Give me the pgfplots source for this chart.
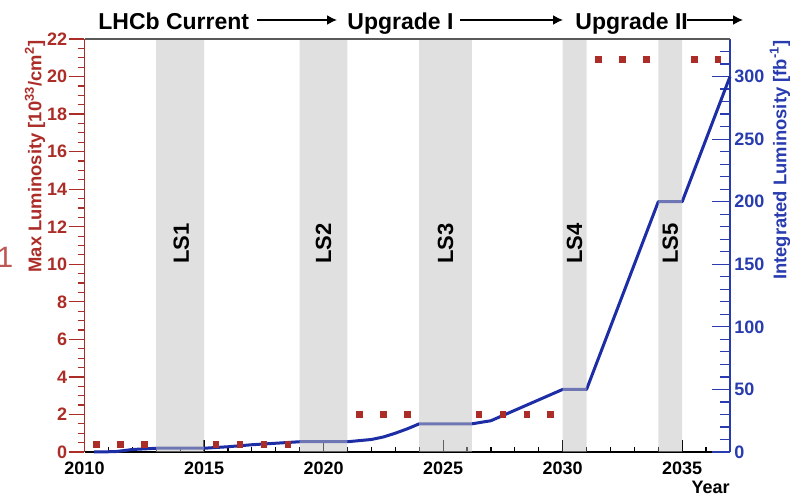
\documentclass[border=0pt]{standalone}
\usepackage{fontspec}
\setmainfont{Liberation Sans}
\usepackage{pgfplots}
\pgfplotsset{compat=1.18}
\usetikzlibrary{arrows.meta}
\definecolor{lred}{RGB}{172,45,40}
\definecolor{lblue}{RGB}{28,45,165}
\definecolor{axblue}{RGB}{40,60,175}
\definecolor{bandc}{RGB}{193,193,193}
\newcommand\tickfont{\bfseries\fontsize{9}{10}\selectfont}
\newcommand\labfont{\bfseries\fontsize{9.2}{10}\selectfont}
\newcommand\topfont{\bfseries\fontsize{11.5}{13}\selectfont}
\newcommand\lsfont{\bfseries\fontsize{11}{13}\selectfont}
\pgfplotsset{
  every axis/.append style={
    scale only axis, width=322.75pt, height=206.5pt,
    xmin=2010, xmax=2037,
    /pgf/number format/assume math mode=true,
    /pgf/number format/1000 sep={},
    clip=false,
  }
}
\begin{document}
\begin{tikzpicture}
% ---- bottom x axis ----
\begin{axis}[
  ymin=0, ymax=22,
  axis x line*=bottom, axis y line=none,
  xtick={2010,2015,2020,2025,2030,2035},
  minor xtick={2010,2011,...,2036},
  tick align=inside,
  major tick length=6pt, minor tick length=2.5pt,
  axis line style={black, line width=0.6pt},
  every tick/.style={black, line width=0.6pt},
  xticklabel style={font=\tickfont, yshift=-1.5pt},
]
\end{axis}
% ---- right axis: integrated luminosity ----
\begin{axis}[
  ymin=0, ymax=330,
  axis y line*=right, axis x line=none,
  ytick={0,50,...,300},
  minor ytick={10,20,...,330},
  tick align=inside,
  major tick length=9pt, minor tick length=5pt,
  axis line style={axblue, line width=0.6pt},
  every tick/.style={axblue, line width=0.6pt},
  yticklabel style={font=\tickfont, text=axblue, inner sep=2pt},
]
\addplot[lblue, line width=1.5pt, line join=round] coordinates {
  (2010.4,0) (2011.3,0.3) (2012,2) (2013,3)
  (2015,3) (2016,4.2) (2017,5.8) (2018,7) (2019,8.2)
  (2021,8.2) (2022,10) (2022.5,12) (2023,15) (2023.5,18.5) (2024,22.5)
  (2026.2,22.5) (2027,25) (2030,50)
  (2031,50) (2034,200)
  (2035,200) (2037,300)
};
\end{axis}
% ---- left axis: max luminosity ----
\begin{axis}[
  ymin=0, ymax=22,
  axis y line*=left, axis x line=none,
  ytick={0,2,...,22},
  minor ytick={0,0.5,...,22},
  tick align=outside,
  major tick length=8pt, minor tick length=3.5pt,
  axis line style={lred, line width=0.6pt},
  every tick/.style={lred, line width=0.6pt},
  yticklabel style={font=\tickfont, text=lred, inner sep=0.5pt},
]
\addplot[draw=none, fill=bandc, fill opacity=0.5] coordinates {(2013,0) (2015,0) (2015,22) (2013,22)} \closedcycle;
\addplot[draw=none, fill=bandc, fill opacity=0.5] coordinates {(2019,0) (2021,0) (2021,22) (2019,22)} \closedcycle;
\addplot[draw=none, fill=bandc, fill opacity=0.5] coordinates {(2024,0) (2026.2,0) (2026.2,22) (2024,22)} \closedcycle;
\addplot[draw=none, fill=bandc, fill opacity=0.5] coordinates {(2030,0) (2031,0) (2031,22) (2030,22)} \closedcycle;
\addplot[draw=none, fill=bandc, fill opacity=0.5] coordinates {(2034,0) (2035,0) (2035,22) (2034,22)} \closedcycle;
\addplot[only marks, mark=square*, mark size=1.4pt, color=lred] coordinates {
  (2010.5,0.4) (2011.5,0.4) (2012.5,0.4)
  (2015.5,0.4) (2016.5,0.4) (2017.5,0.4) (2018.5,0.4)
  (2021.5,2) (2022.5,2) (2023.5,2)
  (2026.5,2) (2027.5,2) (2028.5,2) (2029.5,2)
  (2031.5,20.9) (2032.5,20.9) (2033.5,20.9)
  (2035.5,20.9) (2036.5,20.9)
};
\node[rotate=90, font=\lsfont] at (axis cs:2014.05,11.1) {LS1};
\node[rotate=90, font=\lsfont] at (axis cs:2020,11.1) {LS2};
\node[rotate=90, font=\lsfont] at (axis cs:2025.1,11.1) {LS3};
\node[rotate=90, font=\lsfont] at (axis cs:2030.5,11.1) {LS4};
\node[rotate=90, font=\lsfont] at (axis cs:2034.5,11.1) {LS5};
\end{axis}
% top frame line
\draw[black!65, line width=1pt] (0,206.5pt) -- (322.75pt,206.5pt);
% axis titles
\node[rotate=90, anchor=east, inner sep=0pt, text=lred, font=\labfont] at (-24.75pt,206pt) {Max Luminosity [10\textsuperscript{33}/cm\textsuperscript{2}]};
\node[rotate=90, anchor=east, inner sep=0pt, text=axblue, font=\labfont] at (347.75pt,206pt) {Integrated Luminosity [fb\textsuperscript{-1}]};
\node[anchor=base east, inner sep=0pt, font=\tickfont] at (322.75pt,-20.5pt) {Year};
\node[anchor=base east, inner sep=0pt, text=lred!80, font=\fontsize{14.7}{15}\selectfont] at (-35.4pt,92pt) {1};
% top annotations
\node[anchor=base west, inner sep=0pt, font=\topfont] at (6.75pt,211pt) {LHCb Current};
\draw[-{Latex[length=5pt,width=5pt]}, line width=0.8pt] (86.25pt,216pt) -- (126.25pt,216pt);
\node[anchor=base west, inner sep=0pt, font=\topfont] at (131.25pt,211pt) {Upgrade I};
\draw[-{Latex[length=5pt,width=5pt]}, line width=0.8pt] (187.75pt,216pt) -- (239.25pt,216pt);
\node[anchor=base west, inner sep=0pt, font=\topfont] at (245.25pt,211pt) {Upgrade II};
\draw[-{Latex[length=5pt,width=5pt]}, line width=0.8pt] (301.25pt,216pt) -- (329.25pt,216pt);
\pgfresetboundingbox
\path[use as bounding box] (-42.25pt,-22.5pt) rectangle (352.75pt,226pt);
\end{tikzpicture}
\end{document}
